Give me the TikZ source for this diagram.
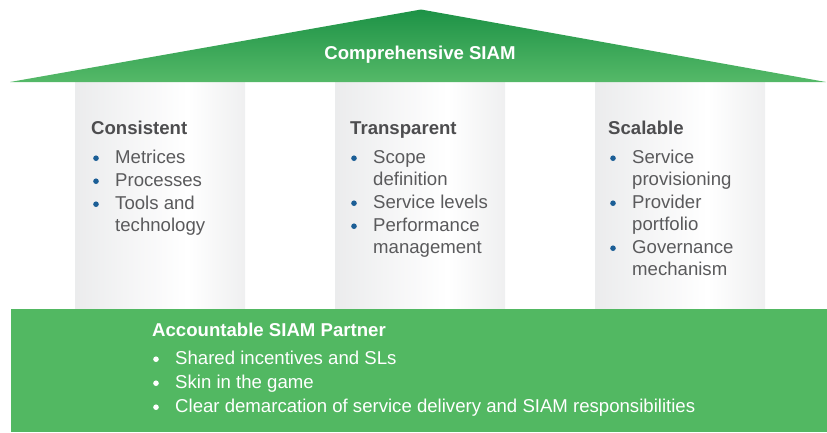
\documentclass[tikz,border=0pt]{standalone}
\usepackage{fontspec}
\setmainfont{Liberation Sans}
\definecolor{roofdark}{HTML}{1D9246}
\definecolor{roofpale}{HTML}{55B968}
\definecolor{basegreen}{HTML}{52B862}
\definecolor{pilL}{HTML}{DCDDDF}
\definecolor{pilR}{HTML}{D8D9DB}
\definecolor{headgray}{HTML}{4D4D4F}
\definecolor{bodygray}{HTML}{5A5A5C}
\definecolor{dotblue}{HTML}{1B5E96}
\pgfdeclarehorizontalshading{pillarshade}{100bp}{color(0bp)=(pilL); color(58bp)=(white); color(100bp)=(pilR)}
\tikzset{
  pillar/.style={shading=pillarshade, draw=none},
  heading/.style={inner sep=0pt, anchor=base west, font=\fontsize{18.6}{22}\selectfont\bfseries, text=headgray},
  body/.style={inner sep=0pt, anchor=base west, font=\fontsize{18.6}{22}\selectfont, text=bodygray},
}
\newcommand\bitem[6]{% name, x, y, text, dot colour, text colour
  \fill[#5] (#2-19,#3-4.8) circle (2.8pt);
  \node[body, text=#6] (#1) at (#2,#3) {\begin{tabular}[t]{@{}l@{}}#4\end{tabular}};}
\begin{document}
\begin{tikzpicture}[x=1pt, y=-1pt]
\useasboundingbox (0,0) rectangle (827,432);
% pillars
\path[pillar] (75,82) rectangle (245,309);
\path[pillar] (335,82) rectangle (505,309);
\path[pillar] (595,82) rectangle (765,309);
% roof
\shade[top color=roofdark, bottom color=roofpale] (10,82) -- (421,9.5) -- (826,82) -- cycle;
\node[inner sep=0pt, anchor=base, font=\fontsize{18.6}{22}\selectfont\bfseries, text=white] (roof) at (420,59.5) {Comprehensive SIAM};
% base
\fill[basegreen] (11,309) rectangle (827,432);
% pillar 1
\node[heading] (h1) at (91,134) {Consistent};
\bitem{a1}{115}{163}{Metrices}{dotblue}{bodygray}
\bitem{a2}{115}{186}{Processes}{dotblue}{bodygray}
\bitem{a3}{115}{209}{Tools and\\technology}{dotblue}{bodygray}
% pillar 2
\node[heading] (h2) at (350,134) {Transparent};
\bitem{b1}{373}{163}{Scope\\definition}{dotblue}{bodygray}
\bitem{b2}{373}{208}{Service levels}{dotblue}{bodygray}
\bitem{b3}{373}{231}{Performance\\management}{dotblue}{bodygray}
% pillar 3
\node[heading] (h3) at (608,134) {Scalable};
\bitem{c1}{632}{163}{Service\\provisioning}{dotblue}{bodygray}
\bitem{c2}{632}{208}{Provider\\portfolio}{dotblue}{bodygray}
\bitem{c3}{632}{253}{Governance\\mechanism}{dotblue}{bodygray}
% base text
\node[heading, text=white] (h4) at (152,336) {Accountable SIAM Partner};
\bitem{d1}{175}{364}{Shared incentives and SLs}{white}{white}
\bitem{d2}{175}{388}{Skin in the game}{white}{white}
\bitem{d3}{175}{412}{Clear demarcation of service delivery and SIAM responsibilities}{white}{white}
\end{tikzpicture}
\end{document}
